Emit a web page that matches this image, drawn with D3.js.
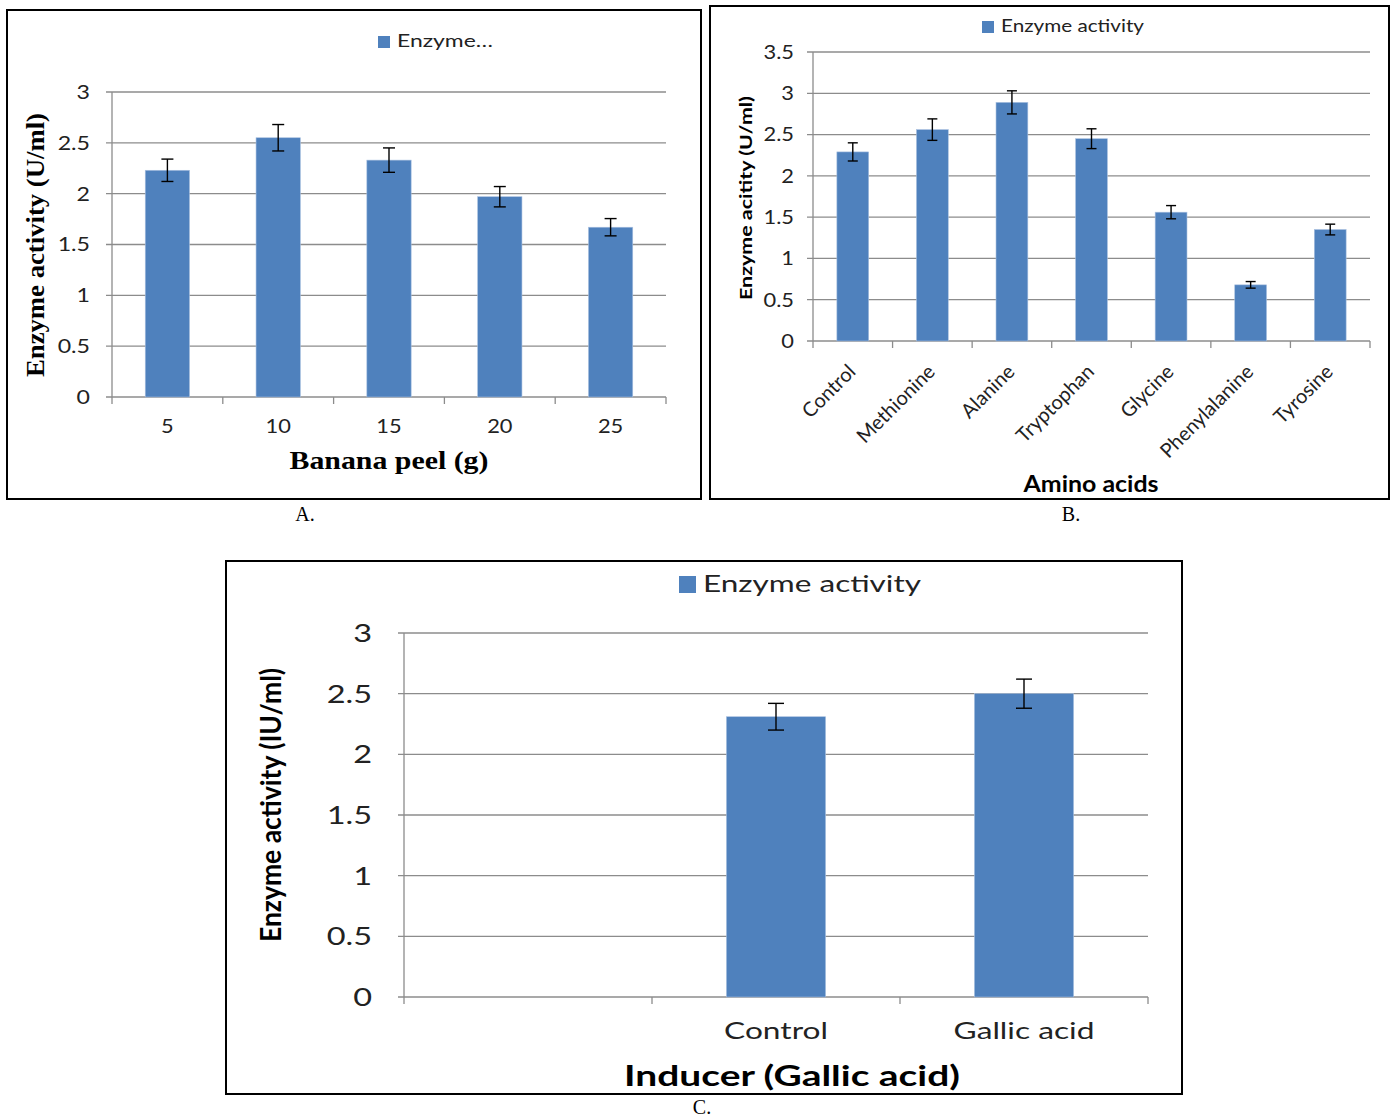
<!DOCTYPE html>
<html><head><meta charset="utf-8">
<script src="https://cdn.jsdelivr.net/npm/d3@7/dist/d3.min.js"></script>
<style>body{margin:0;background:#fff}svg{display:block}</style>
</head><body>
<svg id="chart" width="1390" height="1117"></svg>
<script>
// ---- data ----
const bananaPeel = ["5", "10", "15", "20", "25"];
const bananaValues = [2.23, 2.55, 2.33, 1.97, 1.67];
const bananaErrors = [0.11, 0.13, 0.12, 0.10, 0.085];
const ticksA = [0, 0.5, 1, 1.5, 2, 2.5, 3];

const aminoAcids = ["Control", "Methionine", "Alanine", "Tryptophan", "Glycine", "Phenylalanine", "Tyrosine"];
const aminoValues = [2.29, 2.56, 2.89, 2.45, 1.56, 0.68, 1.35];
const aminoErrors = [0.11, 0.13, 0.14, 0.12, 0.08, 0.04, 0.065];
const ticksB = [0, 0.5, 1, 1.5, 2, 2.5, 3, 3.5];

const inducers = ["", "Control", "Gallic acid"];
const inducerValues = [null, 2.31, 2.50];
const inducerErrors = [null, 0.11, 0.12];
const ticksC = [0, 0.5, 1, 1.5, 2, 2.5, 3];

const BAR = "#4F81BD", GRID = "#8c8c8c";
const SANS = "Lato, 'Open Sans', sans-serif";
const svg = d3.select("#chart");

function panel(o) {
  const g = svg.append("g");
  g.append("rect").attr("x", o.frame[0]).attr("y", o.frame[1])
    .attr("width", o.frame[2] - o.frame[0]).attr("height", o.frame[3] - o.frame[1])
    .attr("fill", "none").attr("stroke", "#000").attr("stroke-width", 2);
  const x = d3.scaleBand().domain(o.cats).range([o.left, o.right]).paddingInner(0.6).paddingOuter(0.3);
  const y = d3.scaleLinear().domain([0, o.ymax]).range([o.bottom, o.top]);
  g.selectAll(".grid").data(o.ticks).join("line")
    .attr("x1", o.left - 6).attr("x2", o.right)
    .attr("y1", d => y(d)).attr("y2", d => y(d))
    .attr("stroke", GRID).attr("stroke-width", 1.3);
  g.append("line").attr("x1", o.left).attr("x2", o.left).attr("y1", o.top).attr("y2", o.bottom)
    .attr("stroke", GRID).attr("stroke-width", 1.3);
  const bounds = d3.range(o.cats.length + 1).map(i => o.left + i * x.step());
  g.selectAll(".xt").data(bounds).join("line")
    .attr("x1", d => d).attr("x2", d => d).attr("y1", o.bottom).attr("y2", o.bottom + 7)
    .attr("stroke", GRID).attr("stroke-width", 1.3);
  g.selectAll(".yl").data(o.ticks).join("text")
    .attr("transform", d => `translate(${o.left - o.ylabGap},${y(d)}) scale(${o.sx},1)`)
    .attr("dy", "0.36em")
    .attr("text-anchor", "end").attr("font-family", SANS)
    .attr("font-size", o.tickFs).attr("fill", "#222").text(d => d);
  const data = o.cats.map((c, i) => ({c, v: o.vals[i], e: o.errs[i]})).filter(d => d.v != null);
  g.selectAll(".bar").data(data).join("rect")
    .attr("x", d => x(d.c)).attr("width", x.bandwidth())
    .attr("y", d => y(d.v)).attr("height", d => y(0) - y(d.v))
    .attr("fill", BAR).attr("stroke", "#a9c0e0").attr("stroke-width", 0.6);
  const cap = o.cap;
  const cx = d => x(d.c) + x.bandwidth() / 2;
  const eb = g.selectAll(".eb").data(data).join("g").attr("stroke", "#000").attr("stroke-width", 1.4);
  eb.append("line").attr("x1", cx).attr("x2", cx)
    .attr("y1", d => y(d.v + d.e)).attr("y2", d => y(d.v - d.e));
  eb.append("line").attr("x1", d => cx(d) - cap).attr("x2", d => cx(d) + cap)
    .attr("y1", d => y(d.v + d.e)).attr("y2", d => y(d.v + d.e));
  eb.append("line").attr("x1", d => cx(d) - cap).attr("x2", d => cx(d) + cap)
    .attr("y1", d => y(d.v - d.e)).attr("y2", d => y(d.v - d.e));
  if (o.rotate) {
    g.selectAll(".xl").data(o.cats).join("text")
      .attr("transform", d => `translate(${x(d) + x.bandwidth() / 2 - 1},${o.bottom + 27}) rotate(-45)`)
      .attr("text-anchor", "end").attr("dy", "0.35em")
      .attr("font-family", SANS).attr("font-size", o.xFs).attr("fill", "#222")
      .text(d => d);
  } else {
    g.selectAll(".xl").data(o.cats).join("text")
      .attr("transform", d => `translate(${x(d) + x.bandwidth() / 2},${o.xlabY}) scale(${o.xsx},1)`)
      .attr("text-anchor", "middle")
      .attr("font-family", SANS).attr("font-size", o.xFs).attr("fill", "#222")
      .text(d => d);
  }
  g.append("rect").attr("x", o.leg[0]).attr("y", o.leg[1]).attr("width", o.leg[2]).attr("height", o.leg[2]).attr("fill", BAR);
  g.append("text").attr("x", o.leg[0] + o.leg[2] + 7).attr("y", o.leg[1] + o.leg[2] - 1)
    .attr("font-family", SANS).attr("font-size", o.legFs).attr("fill", "#222")
    .attr("textLength", o.legLen).attr("lengthAdjust", "spacingAndGlyphs").text(o.legText);
  g.append("text").attr("x", o.xt[0]).attr("y", o.xt[1]).attr("text-anchor", "middle")
    .attr("font-family", o.titleFont).attr("font-weight", "bold").attr("font-size", o.xt[2]).attr("fill", "#000")
    .attr("textLength", o.xt[3]).attr("lengthAdjust", "spacingAndGlyphs").text(o.xTitle);
  g.append("text").attr("transform", `translate(${o.yt[0]},${o.yt[1]}) rotate(-90)`).attr("text-anchor", "middle")
    .attr("font-family", o.titleFont).attr("font-weight", "bold").attr("font-size", o.yt[2]).attr("fill", "#000")
    .attr("textLength", o.yt[3]).attr("lengthAdjust", "spacingAndGlyphs").text(o.yTitle);
  svg.append("text").attr("x", o.cap2[0]).attr("y", o.cap2[1]).attr("text-anchor", "middle")
    .attr("font-family", "'Liberation Serif', 'Times New Roman', serif").attr("font-size", 20).attr("fill", "#000").text(o.caption);
}

panel({
  frame: [7, 10, 701, 499], cats: bananaPeel, vals: bananaValues, errs: bananaErrors, ticks: ticksA, ymax: 3,
  left: 112, right: 666, top: 92, bottom: 397, ylabGap: 22, tickFs: 19, sx: 1.22, xFs: 19, xsx: 1.15, xlabY: 433, cap: 6,
  leg: [378, 36, 12], legFs: 18, legLen: 96, legText: "Enzyme…",
  titleFont: "'Liberation Serif', 'Times New Roman', serif",
  xTitle: "Banana peel (g)", xt: [389, 469, 25, 199], yTitle: "Enzyme activity (U/ml)", yt: [44, 245, 25, 264],
  caption: "A.", cap2: [305, 521]
});

panel({
  frame: [710, 6, 1389, 499], cats: aminoAcids, vals: aminoValues, errs: aminoErrors, ticks: ticksB, ymax: 3.5,
  left: 813, right: 1370, top: 52, bottom: 341, ylabGap: 19, tickFs: 19, sx: 1.15, xFs: 20, rotate: true, cap: 5,
  leg: [982, 21, 12], legFs: 18, legLen: 143, legText: "Enzyme activity",
  titleFont: SANS,
  xTitle: "Amino acids", xt: [1091, 492, 22, 135], yTitle: "Enzyme acitity (U/ml)", yt: [752, 198, 17, 204],
  caption: "B.", cap2: [1071, 521]
});

panel({
  frame: [226, 561, 1182, 1094], cats: inducers, vals: inducerValues, errs: inducerErrors, ticks: ticksC, ymax: 3,
  left: 404, right: 1148, top: 633, bottom: 997, ylabGap: 32, tickFs: 25, sx: 1.3, xFs: 24, xsx: 1.32, xlabY: 1039, cap: 8,
  leg: [679, 576, 17], legFs: 23, legLen: 218, legText: "Enzyme activity",
  titleFont: SANS,
  xTitle: "Inducer (Gallic acid)", xt: [792, 1086, 28, 336], yTitle: "Enzyme activity (IU/ml)", yt: [281, 805, 28, 274],
  caption: "C.", cap2: [702, 1114]
});
</script>
</body></html>
